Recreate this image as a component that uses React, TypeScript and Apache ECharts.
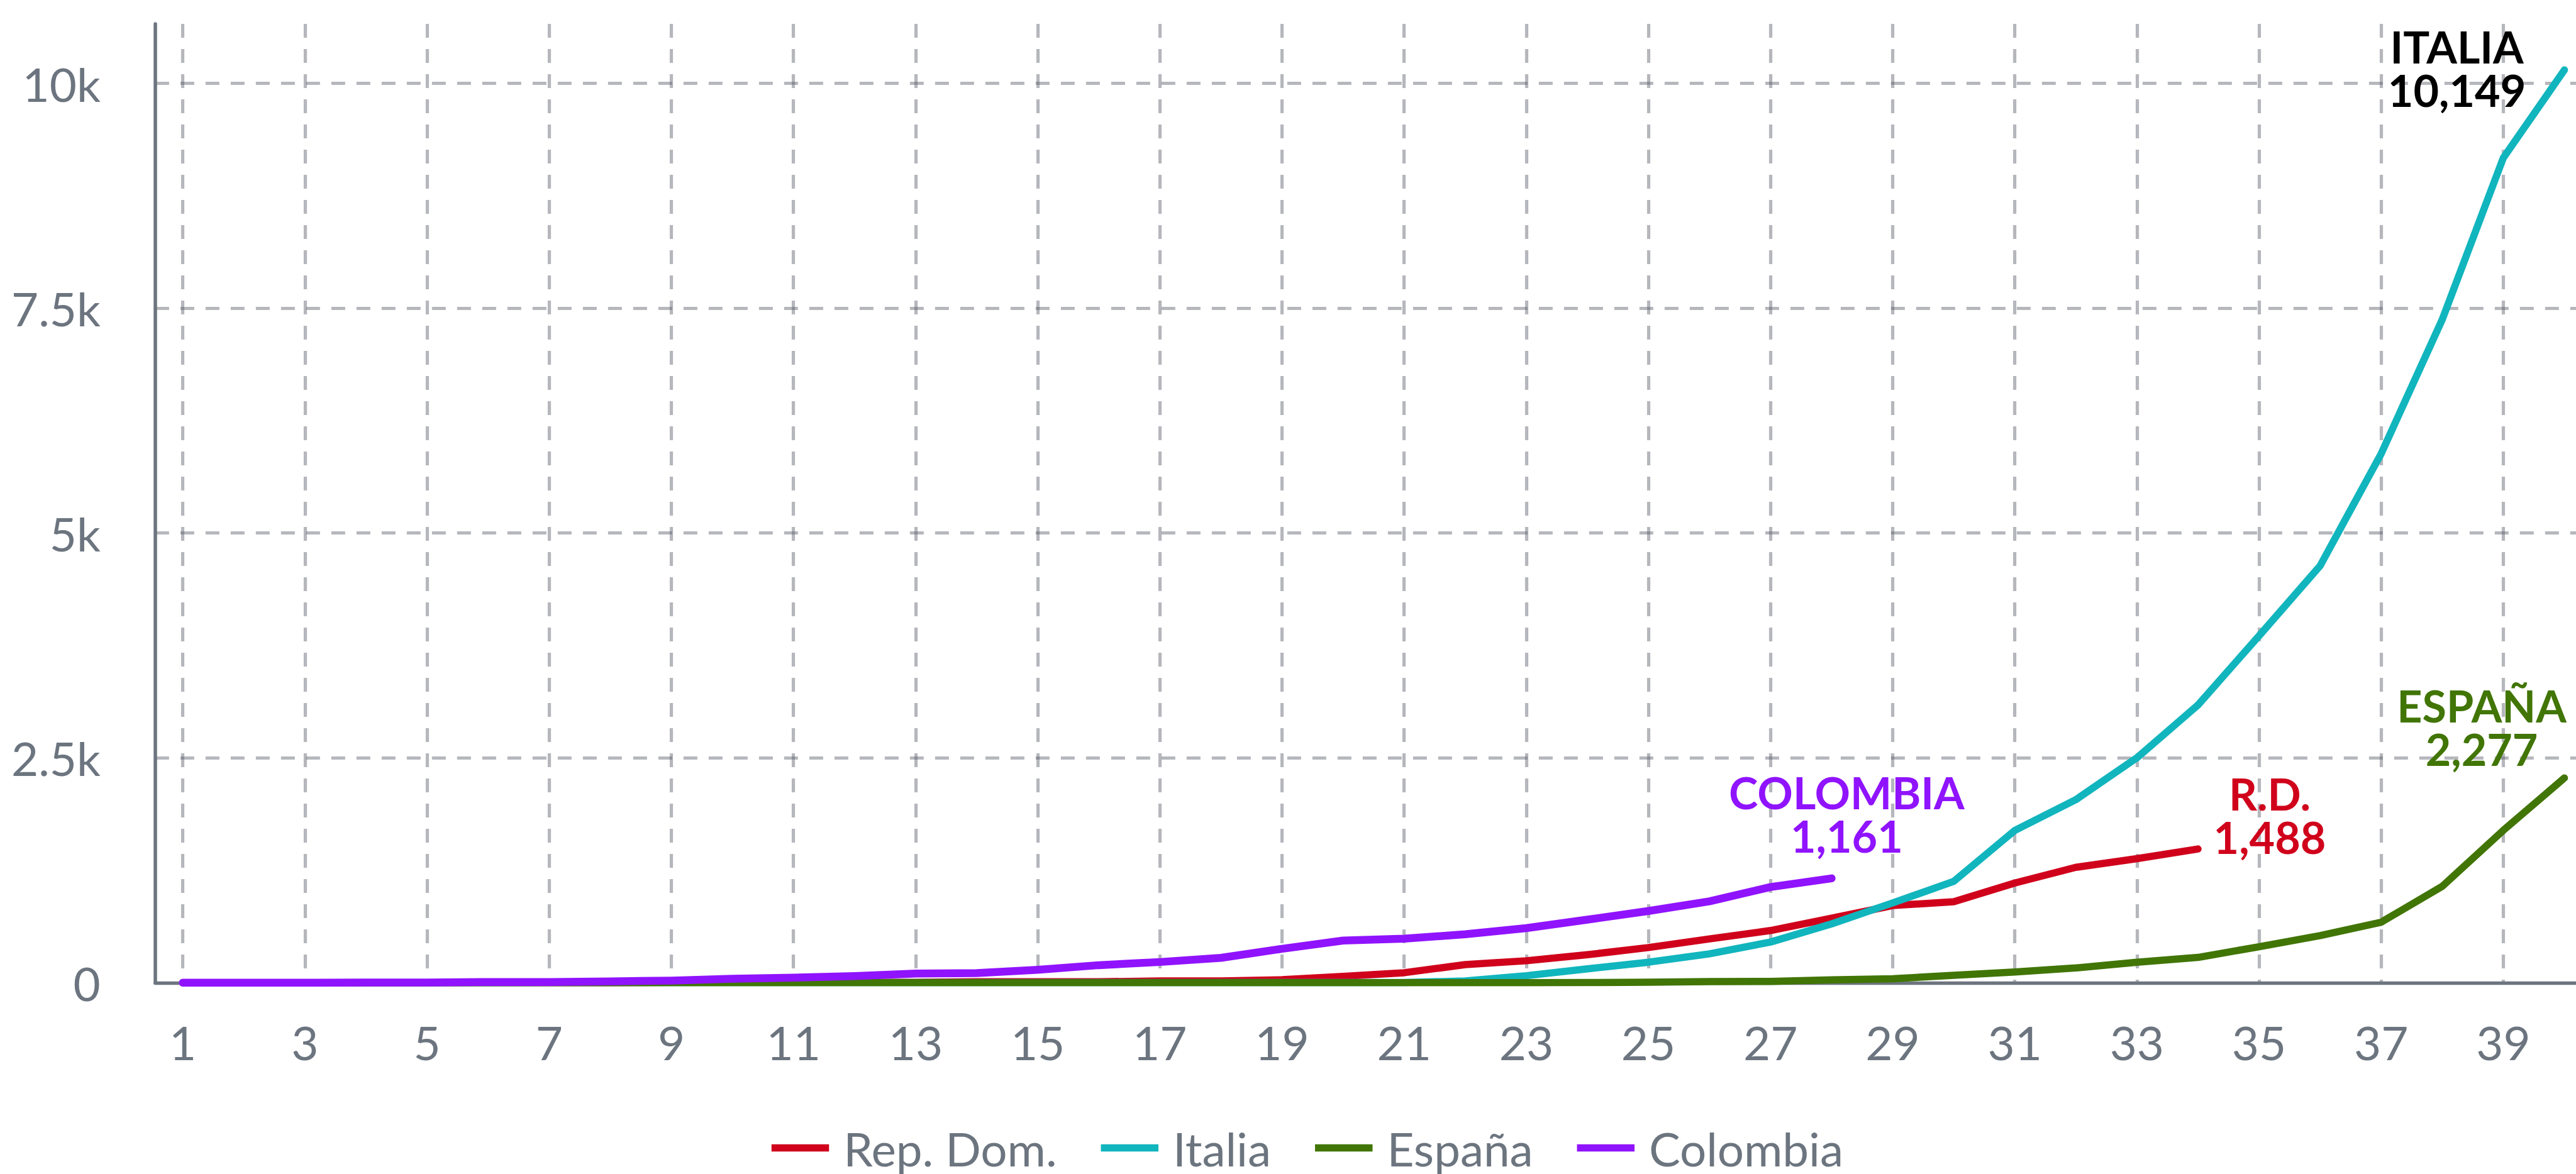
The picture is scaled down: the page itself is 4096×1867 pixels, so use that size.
import React, { useEffect, useRef } from "react";
import * as echarts from "echarts";

// ---- data ----
const days = [1, 2, 3, 4, 5, 6, 7, 8, 9, 10, 11, 12, 13, 14, 15, 16, 17, 18, 19, 20, 21, 22, 23, 24, 25, 26, 27, 28, 29, 30, 31, 32, 33, 34, 35, 36, 37, 38, 39, 40];

const repDom = [1, 1, 1, 1, 1, 1, 2, 2, 5, 5, 5, 5, 5, 11, 11, 11, 21, 21, 34, 72, 112, 202, 245, 312, 392, 488, 581, 719, 859, 901, 1109, 1284, 1380, 1488];
const italia = [2, 2, 2, 2, 2, 2, 3, 3, 3, 3, 3, 3, 3, 3, 3, 3, 3, 3, 3, 3, 3, 20, 79, 155, 229, 322, 453, 655, 888, 1128, 1694, 2036, 2502, 3089, 3858, 4636, 5883, 7375, 9172, 10149];
const espana = [1, 1, 1, 1, 1, 1, 1, 1, 2, 2, 2, 2, 2, 2, 2, 2, 2, 2, 2, 2, 2, 2, 2, 3, 6, 13, 15, 32, 45, 84, 120, 165, 228, 282, 401, 525, 674, 1073, 1695, 2277];
const colombia = [1, 1, 1, 3, 3, 9, 9, 16, 24, 45, 57, 75, 102, 108, 145, 196, 231, 277, 378, 470, 491, 539, 608, 702, 798, 906, 1065, 1161];

const seriesNames = ["Rep. Dom.", "Italia", "España", "Colombia"];
const endLabelNames = ["R.D.", "ITALIA", "ESPAÑA", "COLOMBIA"];

const xTickValues = [1, 3, 5, 7, 9, 11, 13, 15, 17, 19, 21, 23, 25, 27, 29, 31, 33, 35, 37, 39];
const yTickValues = [0, 2500, 5000, 7500, 10000];
const yTickLabels = ["0", "2.5k", "5k", "7.5k", "10k"];

// ---- styles ----
const S = 0.953;
const GRAY = "#6c757f";
const GRID = "rgba(90,96,106,0.45)";
const FONT = "Lato";

function makeSeries(
  name: string,
  values: number[],
  color: string,
  width: number,
  labelName: string,
  labelColor: string,
  offset: number[]
) {
  const last = values.length - 1;
  return {
    type: "line",
    name,
    data: values.map((v, i) => [days[i], v]),
    showSymbol: false,
    symbol: "none",
    silent: true,
    emphasis: { disabled: true },
    itemStyle: { color },
    lineStyle: { color, width, cap: "round", join: "round" },
    markPoint: {
      symbol: "circle",
      symbolSize: 1,
      silent: true,
      itemStyle: { color: "rgba(0,0,0,0)" },
      label: {
        show: true,
        position: "inside",
        offset,
        formatter: labelName + "\n" + values[last].toLocaleString("en-US"),
        color: labelColor,
        fontFamily: FONT,
        fontWeight: "bold",
        fontSize: 70,
        lineHeight: 69,
        align: "center",
        verticalAlign: "middle",
      },
      data: [{ coord: [days[last], values[last]] }],
    },
  };
}

const option: any = {
  animation: false,
  backgroundColor: "#ffffff",
  grid: {
    left: 259 * S,
    right: 0,
    top: 40 * S,
    bottom: 1867 - 1640 * S,
    containLabel: false,
    outerBoundsMode: "none",
  },
  legend: {
    left: 1282 * S,
    top: 1783,
    icon: "rect",
    itemWidth: 96 * S,
    itemHeight: 12 * S,
    itemGap: 70,
    selectedMode: false,
    data: seriesNames,
    textStyle: {
      fontFamily: FONT,
      fontSize: 74.5,
      color: GRAY,
      padding: [0, 0, 0, 18],
    },
  },
  xAxis: {
    type: "value",
    min: 0.548,
    max: 40.19,
    axisLine: { show: true, onZero: true, lineStyle: { color: GRAY, width: 5.3 } },
    axisTick: { show: false, customValues: xTickValues },
    axisLabel: {
      customValues: xTickValues,
      fontFamily: FONT,
      fontSize: 74.5,
      color: GRAY,
      margin: 57,
    },
    splitLine: {
      show: true,
      lineStyle: { color: GRID, width: 5.2, type: [22, 18] },
    },
  },
  yAxis: {
    type: "value",
    min: 0,
    max: 10660,
    axisLine: { show: true, lineStyle: { color: GRAY, width: 5.5 } },
    axisTick: { show: false, customValues: yTickValues },
    axisLabel: {
      customValues: yTickValues,
      formatter: (v: number) => {
        const i = yTickValues.indexOf(v);
        return i >= 0 ? yTickLabels[i] : "";
      },
      fontFamily: FONT,
      fontSize: 74.5,
      color: GRAY,
      margin: 87,
    },
    splitLine: {
      show: true,
      lineStyle: { color: GRID, width: 5.2, type: [22, 18] },
    },
  },
  series: [
    makeSeries(seriesNames[0], repDom, "#d0021b", 11.5, endLabelNames[0], "#d0021b", [114, -54]),
    makeSeries(seriesNames[1], italia, "#11b5bd", 11.5, endLabelNames[1], "#000000", [-171, -3]),
    makeSeries(seriesNames[2], espana, "#417505", 11.5, endLabelNames[2], "#417505", [-131.5, -81]),
    makeSeries(seriesNames[3], colombia, "#9013fe", 12.5, endLabelNames[3], "#9013fe", [24, -102]),
  ],
};

export default function App() {
  const ref = useRef<HTMLDivElement>(null);
  useEffect(() => {
    document.body.style.margin = "0";
    const chart = echarts.init(ref.current!, null, { renderer: "svg" });
    chart.setOption(option);
    return () => chart.dispose();
  }, []);
  return (
    <div
      ref={ref}
      style={{ position: "fixed", left: 0, top: 0, width: 4096, height: 1867, background: "#fff" }}
    />
  );
}
